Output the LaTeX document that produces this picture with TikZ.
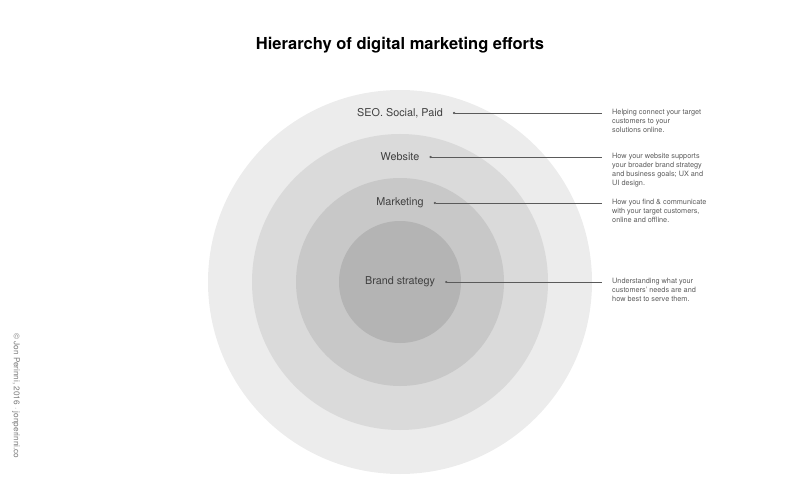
\documentclass[tikz,border=0pt]{standalone}
\usepackage{fontspec}
\setmainfont{TeX Gyre Heros}
\usetikzlibrary{arrows.meta}
\definecolor{ringa}{HTML}{ECECEC}
\definecolor{ringb}{HTML}{DADADA}
\definecolor{ringc}{HTML}{C8C8C8}
\definecolor{ringd}{HTML}{B4B4B4}
\definecolor{inkdark}{HTML}{404040}
\definecolor{inkgrey}{HTML}{5A5A5A}
\tikzset{
	ringlabel/.style={inner sep=0, text=inkdark, font=\fontsize{10.8}{13}\selectfont},
	descr/.style={anchor=north west, inner sep=0, align=left, text=inkgrey, font=\fontsize{7.3}{9}\selectfont},
	leader/.style={draw=inkgrey, line width=0.5pt, {Circle[length=2.2pt]}-}
}
\begin{document}
\begin{tikzpicture}[x=1pt,y=-1pt]
	\useasboundingbox (0,0) rectangle (800,500);
	% rings
	\fill [ringa] (400,282) circle [radius=192];
	\fill [ringb] (400,282) circle [radius=148];
	\fill [ringc] (400,282) circle [radius=104];
	\fill [ringd] (400,282) circle [radius=61];

	% title
	\node (title) at (400,45) {\fontsize{16.5}{19}\selectfont\bfseries Hierarchy of digital marketing efforts};

	% label
	\node [ringlabel] (seo) at (400,113) {SEO. Social, Paid};
	\node [ringlabel] (web) at (400,157) {Website};
	\node [ringlabel] (mkt) at (400,203) {Marketing};
	\node [ringlabel] (brand) at (400,282) {Brand strategy};

	% description
	\node [descr] (seodesc) at (612,109) {Helping connect your target\\customers to your\\solutions online.};
	\node [descr] (webdesc) at (612,153) {How your website supports\\your broader brand strategy\\and business goals; UX and\\UI design.};
	\node [descr] (mktdesc) at (612,199) {How you find \& communicate\\with your target customers,\\online and offline.};
	\node [descr] (branddesc) at (612,278) {Understanding what your\\customers' needs are and\\how best to serve them.};

	% leaders
	\coordinate (seoend) at (602,113);
	\coordinate (webend) at (602,157);
	\coordinate (mktend) at (602,203);
	\coordinate (brandend) at (602,282);
	\draw [leader] ([xshift=10]seo.east) -- (seoend);
	\draw [leader] ([xshift=10]web.east) -- (webend);
	\draw [leader] ([xshift=10]mkt.east) -- (mktend);
	\draw [leader] ([xshift=10]brand.east) -- (brandend);

	% credit
	\node [rotate=-90, anchor=west, inner sep=0, text=inkgrey!80, font=\fontsize{8.2}{10}\selectfont] (credit) at (16,333) {© Jon Perinni, 2016 · jonperinni.co};
\end{tikzpicture}
\end{document}
